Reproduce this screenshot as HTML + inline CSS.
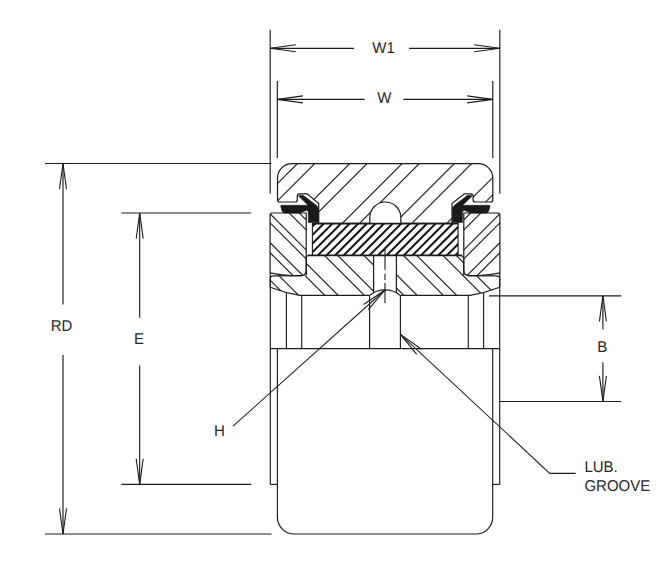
<!DOCTYPE html>
<html lang="en"><head><meta charset="utf-8"><title>Bearing drawing</title>
<style>
html,body{margin:0;padding:0;background:#fff;}
body{width:670px;height:570px;overflow:hidden;}
svg{display:block;font-family:"Liberation Sans",Arial,sans-serif;text-rendering:geometricPrecision;}
</style></head><body>
<svg width="670" height="570" viewBox="0 0 670 570">
<rect width="670" height="570" fill="#ffffff"/>
<line x1="270.20" y1="29.80" x2="270.20" y2="193.80" stroke="#1c1c1c" stroke-width="1.15" />
<line x1="499.80" y1="29.80" x2="499.80" y2="193.80" stroke="#1c1c1c" stroke-width="1.15" />
<line x1="270.20" y1="48.30" x2="354.00" y2="48.30" stroke="#1c1c1c" stroke-width="1.15" />
<line x1="409.00" y1="48.30" x2="499.80" y2="48.30" stroke="#1c1c1c" stroke-width="1.15" />
<line x1="270.20" y1="48.30" x2="295.80" y2="51.80" stroke="#1c1c1c" stroke-width="1.1" />
<line x1="270.20" y1="48.30" x2="295.80" y2="44.80" stroke="#1c1c1c" stroke-width="1.1" />
<line x1="499.80" y1="48.30" x2="474.20" y2="44.80" stroke="#1c1c1c" stroke-width="1.1" />
<line x1="499.80" y1="48.30" x2="474.20" y2="51.80" stroke="#1c1c1c" stroke-width="1.1" />
<text transform="translate(383.6,52.7) scale(0.962,1)" font-size="15.6" text-anchor="middle" fill="#262626">W1</text>
<line x1="277.30" y1="81.00" x2="277.30" y2="158.00" stroke="#1c1c1c" stroke-width="1.15" />
<line x1="492.80" y1="81.00" x2="492.80" y2="158.00" stroke="#1c1c1c" stroke-width="1.15" />
<line x1="277.30" y1="99.40" x2="364.80" y2="99.40" stroke="#1c1c1c" stroke-width="1.15" />
<line x1="403.20" y1="99.40" x2="492.80" y2="99.40" stroke="#1c1c1c" stroke-width="1.15" />
<line x1="277.30" y1="99.40" x2="302.90" y2="102.90" stroke="#1c1c1c" stroke-width="1.1" />
<line x1="277.30" y1="99.40" x2="302.90" y2="95.90" stroke="#1c1c1c" stroke-width="1.1" />
<line x1="492.80" y1="99.40" x2="467.20" y2="95.90" stroke="#1c1c1c" stroke-width="1.1" />
<line x1="492.80" y1="99.40" x2="467.20" y2="102.90" stroke="#1c1c1c" stroke-width="1.1" />
<text transform="translate(384.4,102.8) scale(0.962,1)" font-size="15.6" text-anchor="middle" fill="#262626">W</text>
<line x1="45.00" y1="163.50" x2="271.50" y2="163.50" stroke="#1c1c1c" stroke-width="1.15" />
<line x1="45.00" y1="534.00" x2="271.50" y2="534.00" stroke="#1c1c1c" stroke-width="1.15" />
<line x1="63.00" y1="163.50" x2="63.00" y2="304.40" stroke="#1c1c1c" stroke-width="1.15" />
<line x1="63.00" y1="355.00" x2="63.00" y2="534.00" stroke="#1c1c1c" stroke-width="1.15" />
<line x1="63.00" y1="163.50" x2="59.50" y2="189.10" stroke="#1c1c1c" stroke-width="1.1" />
<line x1="63.00" y1="163.50" x2="66.50" y2="189.10" stroke="#1c1c1c" stroke-width="1.1" />
<line x1="63.00" y1="534.00" x2="66.50" y2="508.40" stroke="#1c1c1c" stroke-width="1.1" />
<line x1="63.00" y1="534.00" x2="59.50" y2="508.40" stroke="#1c1c1c" stroke-width="1.1" />
<text transform="translate(61.6,330.6) scale(0.962,1)" font-size="15.6" text-anchor="middle" fill="#262626">RD</text>
<line x1="121.40" y1="213.00" x2="251.20" y2="213.00" stroke="#1c1c1c" stroke-width="1.15" />
<line x1="121.40" y1="484.40" x2="251.40" y2="484.40" stroke="#1c1c1c" stroke-width="1.15" />
<line x1="139.70" y1="213.00" x2="139.70" y2="317.80" stroke="#1c1c1c" stroke-width="1.15" />
<line x1="139.70" y1="365.40" x2="139.70" y2="484.40" stroke="#1c1c1c" stroke-width="1.15" />
<line x1="139.70" y1="213.00" x2="136.20" y2="238.60" stroke="#1c1c1c" stroke-width="1.1" />
<line x1="139.70" y1="213.00" x2="143.20" y2="238.60" stroke="#1c1c1c" stroke-width="1.1" />
<line x1="139.70" y1="484.40" x2="143.20" y2="458.80" stroke="#1c1c1c" stroke-width="1.1" />
<line x1="139.70" y1="484.40" x2="136.20" y2="458.80" stroke="#1c1c1c" stroke-width="1.1" />
<text transform="translate(138.9,344.4) scale(0.962,1)" font-size="15.6" text-anchor="middle" fill="#262626">E</text>
<line x1="489.00" y1="295.80" x2="621.20" y2="295.80" stroke="#1c1c1c" stroke-width="1.15" />
<line x1="500.00" y1="401.45" x2="621.20" y2="401.45" stroke="#1c1c1c" stroke-width="1.15" />
<line x1="602.90" y1="295.80" x2="602.90" y2="329.60" stroke="#1c1c1c" stroke-width="1.15" />
<line x1="602.90" y1="362.20" x2="602.90" y2="401.45" stroke="#1c1c1c" stroke-width="1.15" />
<line x1="602.90" y1="295.80" x2="599.40" y2="321.40" stroke="#1c1c1c" stroke-width="1.1" />
<line x1="602.90" y1="295.80" x2="606.40" y2="321.40" stroke="#1c1c1c" stroke-width="1.1" />
<line x1="602.90" y1="401.45" x2="606.40" y2="375.85" stroke="#1c1c1c" stroke-width="1.1" />
<line x1="602.90" y1="401.45" x2="599.40" y2="375.85" stroke="#1c1c1c" stroke-width="1.1" />
<text transform="translate(602.3,352.0) scale(0.962,1)" font-size="15.6" text-anchor="middle" fill="#262626">B</text>
<line x1="385.00" y1="290.00" x2="233.00" y2="426.20" stroke="#1c1c1c" stroke-width="1.05" />
<line x1="385.00" y1="290.00" x2="363.60" y2="304.47" stroke="#1c1c1c" stroke-width="1.1" />
<line x1="385.00" y1="290.00" x2="368.27" y2="309.69" stroke="#1c1c1c" stroke-width="1.1" />
<text transform="translate(219.3,436) scale(0.962,1)" font-size="15.6" text-anchor="middle" fill="#262626">H</text>
<path d="M400.4,334.4 L549.7,473.35 L575.6,473.35" stroke="#1c1c1c" stroke-width="1.05" fill="none" />
<line x1="400.40" y1="334.40" x2="416.76" y2="354.40" stroke="#1c1c1c" stroke-width="1.1" />
<line x1="400.40" y1="334.40" x2="421.52" y2="349.28" stroke="#1c1c1c" stroke-width="1.1" />
<text transform="translate(584.4,472.1) scale(0.962,1)" font-size="15.6" text-anchor="start" fill="#262626">LUB.</text>
<text transform="translate(584.4,491.1) scale(0.962,1)" font-size="15.6" text-anchor="start" fill="#262626">GROOVE</text>
<clipPath id="co"><path d="M318.7,223.3 L318.7,203.6 L307.2,193.8 L299.6,193.8 Q297.3,193.8 297.3,196.1 L297.3,199.4 Q297.3,202.0 295,202.0 L279.8,202.0 Q277.5,202.0 277.5,199.4 L277.5,178.0 A14.4,14.4 0 0 1 291.9,163.6 L478.40000000000003,163.6 A14.4,14.4 0 0 1 492.8,178.0 L492.8,199.4 Q492.8,202.0 490.5,202.0 L475.4,202.0 Q473.1,202.0 473.1,199.4 L473.1,196.1 Q473.1,193.8 470.8,193.8 L464.4,193.8 L452.0,203.6 L452.0,223.3 L402,223.3 Q400.8,223.3 400.8,222 L400.8,217.5 A15.5,15.5 0 0 0 369.8,217.5 L369.8,222 Q369.8,223.3 368.6,223.3 Z"/></clipPath>
<g clip-path="url(#co)">
<line x1="311.00" y1="150.00" x2="201.00" y2="260.00" stroke="#1c1c1c" stroke-width="1.15" />
<line x1="363.30" y1="150.00" x2="253.30" y2="260.00" stroke="#1c1c1c" stroke-width="1.15" />
<line x1="415.60" y1="150.00" x2="305.60" y2="260.00" stroke="#1c1c1c" stroke-width="1.15" />
<line x1="467.90" y1="150.00" x2="357.90" y2="260.00" stroke="#1c1c1c" stroke-width="1.15" />
<line x1="520.20" y1="150.00" x2="410.20" y2="260.00" stroke="#1c1c1c" stroke-width="1.15" />
<line x1="572.50" y1="150.00" x2="462.50" y2="260.00" stroke="#1c1c1c" stroke-width="1.15" />
<line x1="328.30" y1="150.00" x2="218.30" y2="260.00" stroke="#1c1c1c" stroke-width="1.15" />
<line x1="380.60" y1="150.00" x2="270.60" y2="260.00" stroke="#1c1c1c" stroke-width="1.15" />
<line x1="432.90" y1="150.00" x2="322.90" y2="260.00" stroke="#1c1c1c" stroke-width="1.15" />
<line x1="485.20" y1="150.00" x2="375.20" y2="260.00" stroke="#1c1c1c" stroke-width="1.15" />
<line x1="537.50" y1="150.00" x2="427.50" y2="260.00" stroke="#1c1c1c" stroke-width="1.15" />
<line x1="589.80" y1="150.00" x2="479.80" y2="260.00" stroke="#1c1c1c" stroke-width="1.15" />
</g>
<path d="M318.7,223.3 L318.7,203.6 L307.2,193.8 L299.6,193.8 Q297.3,193.8 297.3,196.1 L297.3,199.4 Q297.3,202.0 295,202.0 L279.8,202.0 Q277.5,202.0 277.5,199.4 L277.5,178.0 A14.4,14.4 0 0 1 291.9,163.6 L478.40000000000003,163.6 A14.4,14.4 0 0 1 492.8,178.0 L492.8,199.4 Q492.8,202.0 490.5,202.0 L475.4,202.0 Q473.1,202.0 473.1,199.4 L473.1,196.1 Q473.1,193.8 470.8,193.8 L464.4,193.8 L452.0,203.6 L452.0,223.3 L402,223.3 Q400.8,223.3 400.8,222 L400.8,217.5 A15.5,15.5 0 0 0 369.8,217.5 L369.8,222 Q369.8,223.3 368.6,223.3 Z" stroke="#1c1c1c" stroke-width="1.22" fill="none" />
<clipPath id="cr"><rect x="312.4" y="223.3" width="145.70000000000005" height="32.0"/></clipPath>
<g clip-path="url(#cr)">
<line x1="315.20" y1="215.00" x2="268.20" y2="262.00" stroke="#151515" stroke-width="2.05" />
<line x1="323.80" y1="215.00" x2="276.80" y2="262.00" stroke="#151515" stroke-width="2.05" />
<line x1="332.40" y1="215.00" x2="285.40" y2="262.00" stroke="#151515" stroke-width="2.05" />
<line x1="341.00" y1="215.00" x2="294.00" y2="262.00" stroke="#151515" stroke-width="2.05" />
<line x1="349.60" y1="215.00" x2="302.60" y2="262.00" stroke="#151515" stroke-width="2.05" />
<line x1="358.20" y1="215.00" x2="311.20" y2="262.00" stroke="#151515" stroke-width="2.05" />
<line x1="366.80" y1="215.00" x2="319.80" y2="262.00" stroke="#151515" stroke-width="2.05" />
<line x1="375.40" y1="215.00" x2="328.40" y2="262.00" stroke="#151515" stroke-width="2.05" />
<line x1="384.00" y1="215.00" x2="337.00" y2="262.00" stroke="#151515" stroke-width="2.05" />
<line x1="392.60" y1="215.00" x2="345.60" y2="262.00" stroke="#151515" stroke-width="2.05" />
<line x1="401.20" y1="215.00" x2="354.20" y2="262.00" stroke="#151515" stroke-width="2.05" />
<line x1="409.80" y1="215.00" x2="362.80" y2="262.00" stroke="#151515" stroke-width="2.05" />
<line x1="418.40" y1="215.00" x2="371.40" y2="262.00" stroke="#151515" stroke-width="2.05" />
<line x1="427.00" y1="215.00" x2="380.00" y2="262.00" stroke="#151515" stroke-width="2.05" />
<line x1="435.60" y1="215.00" x2="388.60" y2="262.00" stroke="#151515" stroke-width="2.05" />
<line x1="444.20" y1="215.00" x2="397.20" y2="262.00" stroke="#151515" stroke-width="2.05" />
<line x1="452.80" y1="215.00" x2="405.80" y2="262.00" stroke="#151515" stroke-width="2.05" />
<line x1="461.40" y1="215.00" x2="414.40" y2="262.00" stroke="#151515" stroke-width="2.05" />
<line x1="470.00" y1="215.00" x2="423.00" y2="262.00" stroke="#151515" stroke-width="2.05" />
<line x1="478.60" y1="215.00" x2="431.60" y2="262.00" stroke="#151515" stroke-width="2.05" />
<line x1="487.20" y1="215.00" x2="440.20" y2="262.00" stroke="#151515" stroke-width="2.05" />
<line x1="495.80" y1="215.00" x2="448.80" y2="262.00" stroke="#151515" stroke-width="2.05" />
<line x1="504.40" y1="215.00" x2="457.40" y2="262.00" stroke="#151515" stroke-width="2.05" />
</g>
<line x1="312.40" y1="223.30" x2="312.40" y2="255.30" stroke="#1c1c1c" stroke-width="1.1" />
<line x1="458.10" y1="223.30" x2="458.10" y2="255.30" stroke="#1c1c1c" stroke-width="1.1" />
<line x1="311.90" y1="223.70" x2="458.60" y2="223.70" stroke="#1c1c1c" stroke-width="1.7" />
<line x1="308.00" y1="255.30" x2="462.00" y2="255.30" stroke="#1c1c1c" stroke-width="1.7" />
<clipPath id="cfl"><path d="M270.1,275 L270.1,214.3 L271.4,213 L306.2,213 L306.2,269.8 Q306.2,275.6 301.0,275.6 L291,275.6 Q280,275.2 270.1,272.9 Z"/></clipPath>
<g clip-path="url(#cfl)">
<line x1="187.50" y1="200.00" x2="277.50" y2="290.00" stroke="#1c1c1c" stroke-width="1.15" />
<line x1="197.00" y1="200.00" x2="287.00" y2="290.00" stroke="#1c1c1c" stroke-width="1.15" />
<line x1="217.40" y1="200.00" x2="307.40" y2="290.00" stroke="#1c1c1c" stroke-width="1.15" />
<line x1="227.40" y1="200.00" x2="317.40" y2="290.00" stroke="#1c1c1c" stroke-width="1.15" />
<line x1="247.30" y1="200.00" x2="337.30" y2="290.00" stroke="#1c1c1c" stroke-width="1.15" />
<line x1="256.30" y1="200.00" x2="346.30" y2="290.00" stroke="#1c1c1c" stroke-width="1.15" />
<line x1="276.20" y1="200.00" x2="366.20" y2="290.00" stroke="#1c1c1c" stroke-width="1.15" />
<line x1="286.30" y1="200.00" x2="376.30" y2="290.00" stroke="#1c1c1c" stroke-width="1.15" />
</g>
<path d="M270.1,275 L270.1,214.3 L271.4,213 L306.2,213 L306.2,269.8 Q306.2,275.6 301.0,275.6 L291,275.6 Q280,275.2 270.1,272.9 Z" stroke="#1c1c1c" stroke-width="1.22" fill="none" />
<clipPath id="cfr"><path d="M499.9,275 L499.9,214.3 L498.6,213 L463.8,213 L463.8,269.8 Q463.8,275.6 469.0,275.6 L479.0,275.6 Q490.0,275.2 499.9,272.9 Z"/></clipPath>
<g clip-path="url(#cfr)">
<line x1="582.50" y1="200.00" x2="492.50" y2="290.00" stroke="#1c1c1c" stroke-width="1.15" />
<line x1="573.00" y1="200.00" x2="483.00" y2="290.00" stroke="#1c1c1c" stroke-width="1.15" />
<line x1="552.60" y1="200.00" x2="462.60" y2="290.00" stroke="#1c1c1c" stroke-width="1.15" />
<line x1="542.60" y1="200.00" x2="452.60" y2="290.00" stroke="#1c1c1c" stroke-width="1.15" />
<line x1="522.70" y1="200.00" x2="432.70" y2="290.00" stroke="#1c1c1c" stroke-width="1.15" />
<line x1="513.70" y1="200.00" x2="423.70" y2="290.00" stroke="#1c1c1c" stroke-width="1.15" />
<line x1="493.80" y1="200.00" x2="403.80" y2="290.00" stroke="#1c1c1c" stroke-width="1.15" />
<line x1="483.70" y1="200.00" x2="393.70" y2="290.00" stroke="#1c1c1c" stroke-width="1.15" />
</g>
<path d="M499.9,275 L499.9,214.3 L498.6,213 L463.8,213 L463.8,269.8 Q463.8,275.6 469.0,275.6 L479.0,275.6 Q490.0,275.2 499.9,272.9 Z" stroke="#1c1c1c" stroke-width="1.22" fill="none" />
<clipPath id="ci"><path d="M270.2,287.3 L270.2,279 Q270.2,275.8 273.5,275.8 L302,275.6 L306.3,275.6 L306.3,258.0 Q306.3,255.5 308.9,255.5 L373.6,255.5 L373.6,292.6 L370,295.4 L299.8,295.4 Q285,293 270.2,287.3 Z"/><path d="M499.8,287.3 L499.8,279 Q499.8,275.8 496.5,275.8 L468.0,275.6 L463.7,275.6 L463.7,259.1 Q463.7,255.5 460.1,255.5 L396.4,255.5 L396.4,292.6 L400.0,295.4 L470.2,295.4 Q485.0,293 499.8,287.3 Z"/></clipPath>
<g clip-path="url(#ci)">
<line x1="230.00" y1="240.00" x2="290.00" y2="300.00" stroke="#1c1c1c" stroke-width="1.15" />
<line x1="243.30" y1="240.00" x2="303.30" y2="300.00" stroke="#1c1c1c" stroke-width="1.15" />
<line x1="269.50" y1="240.00" x2="329.50" y2="300.00" stroke="#1c1c1c" stroke-width="1.15" />
<line x1="282.80" y1="240.00" x2="342.80" y2="300.00" stroke="#1c1c1c" stroke-width="1.15" />
<line x1="309.00" y1="240.00" x2="369.00" y2="300.00" stroke="#1c1c1c" stroke-width="1.15" />
<line x1="322.30" y1="240.00" x2="382.30" y2="300.00" stroke="#1c1c1c" stroke-width="1.15" />
<line x1="348.50" y1="240.00" x2="408.50" y2="300.00" stroke="#1c1c1c" stroke-width="1.15" />
<line x1="361.80" y1="240.00" x2="421.80" y2="300.00" stroke="#1c1c1c" stroke-width="1.15" />
<line x1="388.00" y1="240.00" x2="448.00" y2="300.00" stroke="#1c1c1c" stroke-width="1.15" />
<line x1="401.30" y1="240.00" x2="461.30" y2="300.00" stroke="#1c1c1c" stroke-width="1.15" />
<line x1="427.50" y1="240.00" x2="487.50" y2="300.00" stroke="#1c1c1c" stroke-width="1.15" />
<line x1="440.80" y1="240.00" x2="500.80" y2="300.00" stroke="#1c1c1c" stroke-width="1.15" />
<line x1="467.00" y1="240.00" x2="527.00" y2="300.00" stroke="#1c1c1c" stroke-width="1.15" />
<line x1="480.30" y1="240.00" x2="540.30" y2="300.00" stroke="#1c1c1c" stroke-width="1.15" />
<line x1="506.50" y1="240.00" x2="566.50" y2="300.00" stroke="#1c1c1c" stroke-width="1.15" />
<line x1="519.80" y1="240.00" x2="579.80" y2="300.00" stroke="#1c1c1c" stroke-width="1.15" />
</g>
<path d="M270.2,287.3 L270.2,279 Q270.2,275.8 273.5,275.8 L302,275.6 M306.3,275.6 L306.3,258.0 Q306.3,255.5 308.9,255.5 L460.2,255.5" stroke="#1c1c1c" stroke-width="1.22" fill="none" />
<path d="M499.8,287.3 L499.8,279 Q499.8,275.8 496.5,275.8 L468.0,275.6 M463.7,275.6 L463.7,259.1 Q463.7,255.5 460.1,255.5" stroke="#1c1c1c" stroke-width="1.22" fill="none" />
<path d="M270.2,287.3 Q285,293 299.8,295.4 L369.6,295.4 A24,24 0 0 1 400.4,295.4 L470.2,295.4 Q485,293 499.8,287.3" stroke="#1c1c1c" stroke-width="1.22" fill="none" />
<line x1="373.60" y1="255.50" x2="373.60" y2="292.50" stroke="#1c1c1c" stroke-width="1.22" />
<line x1="396.40" y1="255.50" x2="396.40" y2="292.50" stroke="#1c1c1c" stroke-width="1.22" />
<path d="M280.7,206.2 Q280.6,205.3 281.6,205.3 L308.0,205.3 L298.6,196 L299.5,195.2 L303.5,195.6 L316.6,205.6 L318.3,208 L318.3,222.5 L308.3,222.5 L308.3,211.6 L306.5,210.3 L300,213 L284.5,213 Q282.6,212.6 282,211 Z" stroke="#1a1a1a" stroke-width="0.6" fill="#1a1a1a" />
<path d="M490.00000000000006,206.2 Q490.1,205.3 489.1,205.3 L462.70000000000005,205.3 L472.1,196 L471.20000000000005,195.2 L467.20000000000005,195.6 L454.1,205.6 L452.40000000000003,208 L452.40000000000003,222.5 L462.40000000000003,222.5 L462.40000000000003,211.6 L464.20000000000005,210.3 L470.70000000000005,213 L486.20000000000005,213 Q488.1,212.6 488.70000000000005,211 Z" stroke="#1a1a1a" stroke-width="0.6" fill="#1a1a1a" />
<line x1="270.30" y1="275.00" x2="270.30" y2="484.40" stroke="#1c1c1c" stroke-width="1.15" />
<line x1="499.70" y1="275.00" x2="499.70" y2="484.40" stroke="#1c1c1c" stroke-width="1.15" />
<line x1="270.30" y1="348.60" x2="499.70" y2="348.60" stroke="#1c1c1c" stroke-width="1.15" />
<line x1="286.40" y1="293.00" x2="286.40" y2="348.60" stroke="#1c1c1c" stroke-width="1.15" />
<line x1="483.60" y1="293.00" x2="483.60" y2="348.60" stroke="#1c1c1c" stroke-width="1.15" />
<line x1="301.70" y1="295.40" x2="301.70" y2="348.60" stroke="#1c1c1c" stroke-width="1.15" />
<line x1="468.30" y1="295.40" x2="468.30" y2="348.60" stroke="#1c1c1c" stroke-width="1.15" />
<line x1="369.60" y1="295.40" x2="369.60" y2="348.60" stroke="#1c1c1c" stroke-width="1.15" />
<line x1="400.40" y1="295.40" x2="400.40" y2="348.60" stroke="#1c1c1c" stroke-width="1.15" />
<path d="M277.4,348.6 L277.4,517.3 A16.7,16.7 0 0 0 294.1,534 L476.0,534 A16.7,16.7 0 0 0 492.70000000000005,517.3 L492.70000000000005,348.6" stroke="#1c1c1c" stroke-width="1.15" fill="none" />
<line x1="270.30" y1="484.40" x2="277.40" y2="484.40" stroke="#1c1c1c" stroke-width="1.15" />
<line x1="499.70" y1="484.40" x2="492.70" y2="484.40" stroke="#1c1c1c" stroke-width="1.15" />
<path d="M385,248.5 L385,269.8 M385,273.8 L385,280 M385,283 L385,303" stroke="#1c1c1c" stroke-width="1.1" fill="none"/>
</svg>
</body></html>
